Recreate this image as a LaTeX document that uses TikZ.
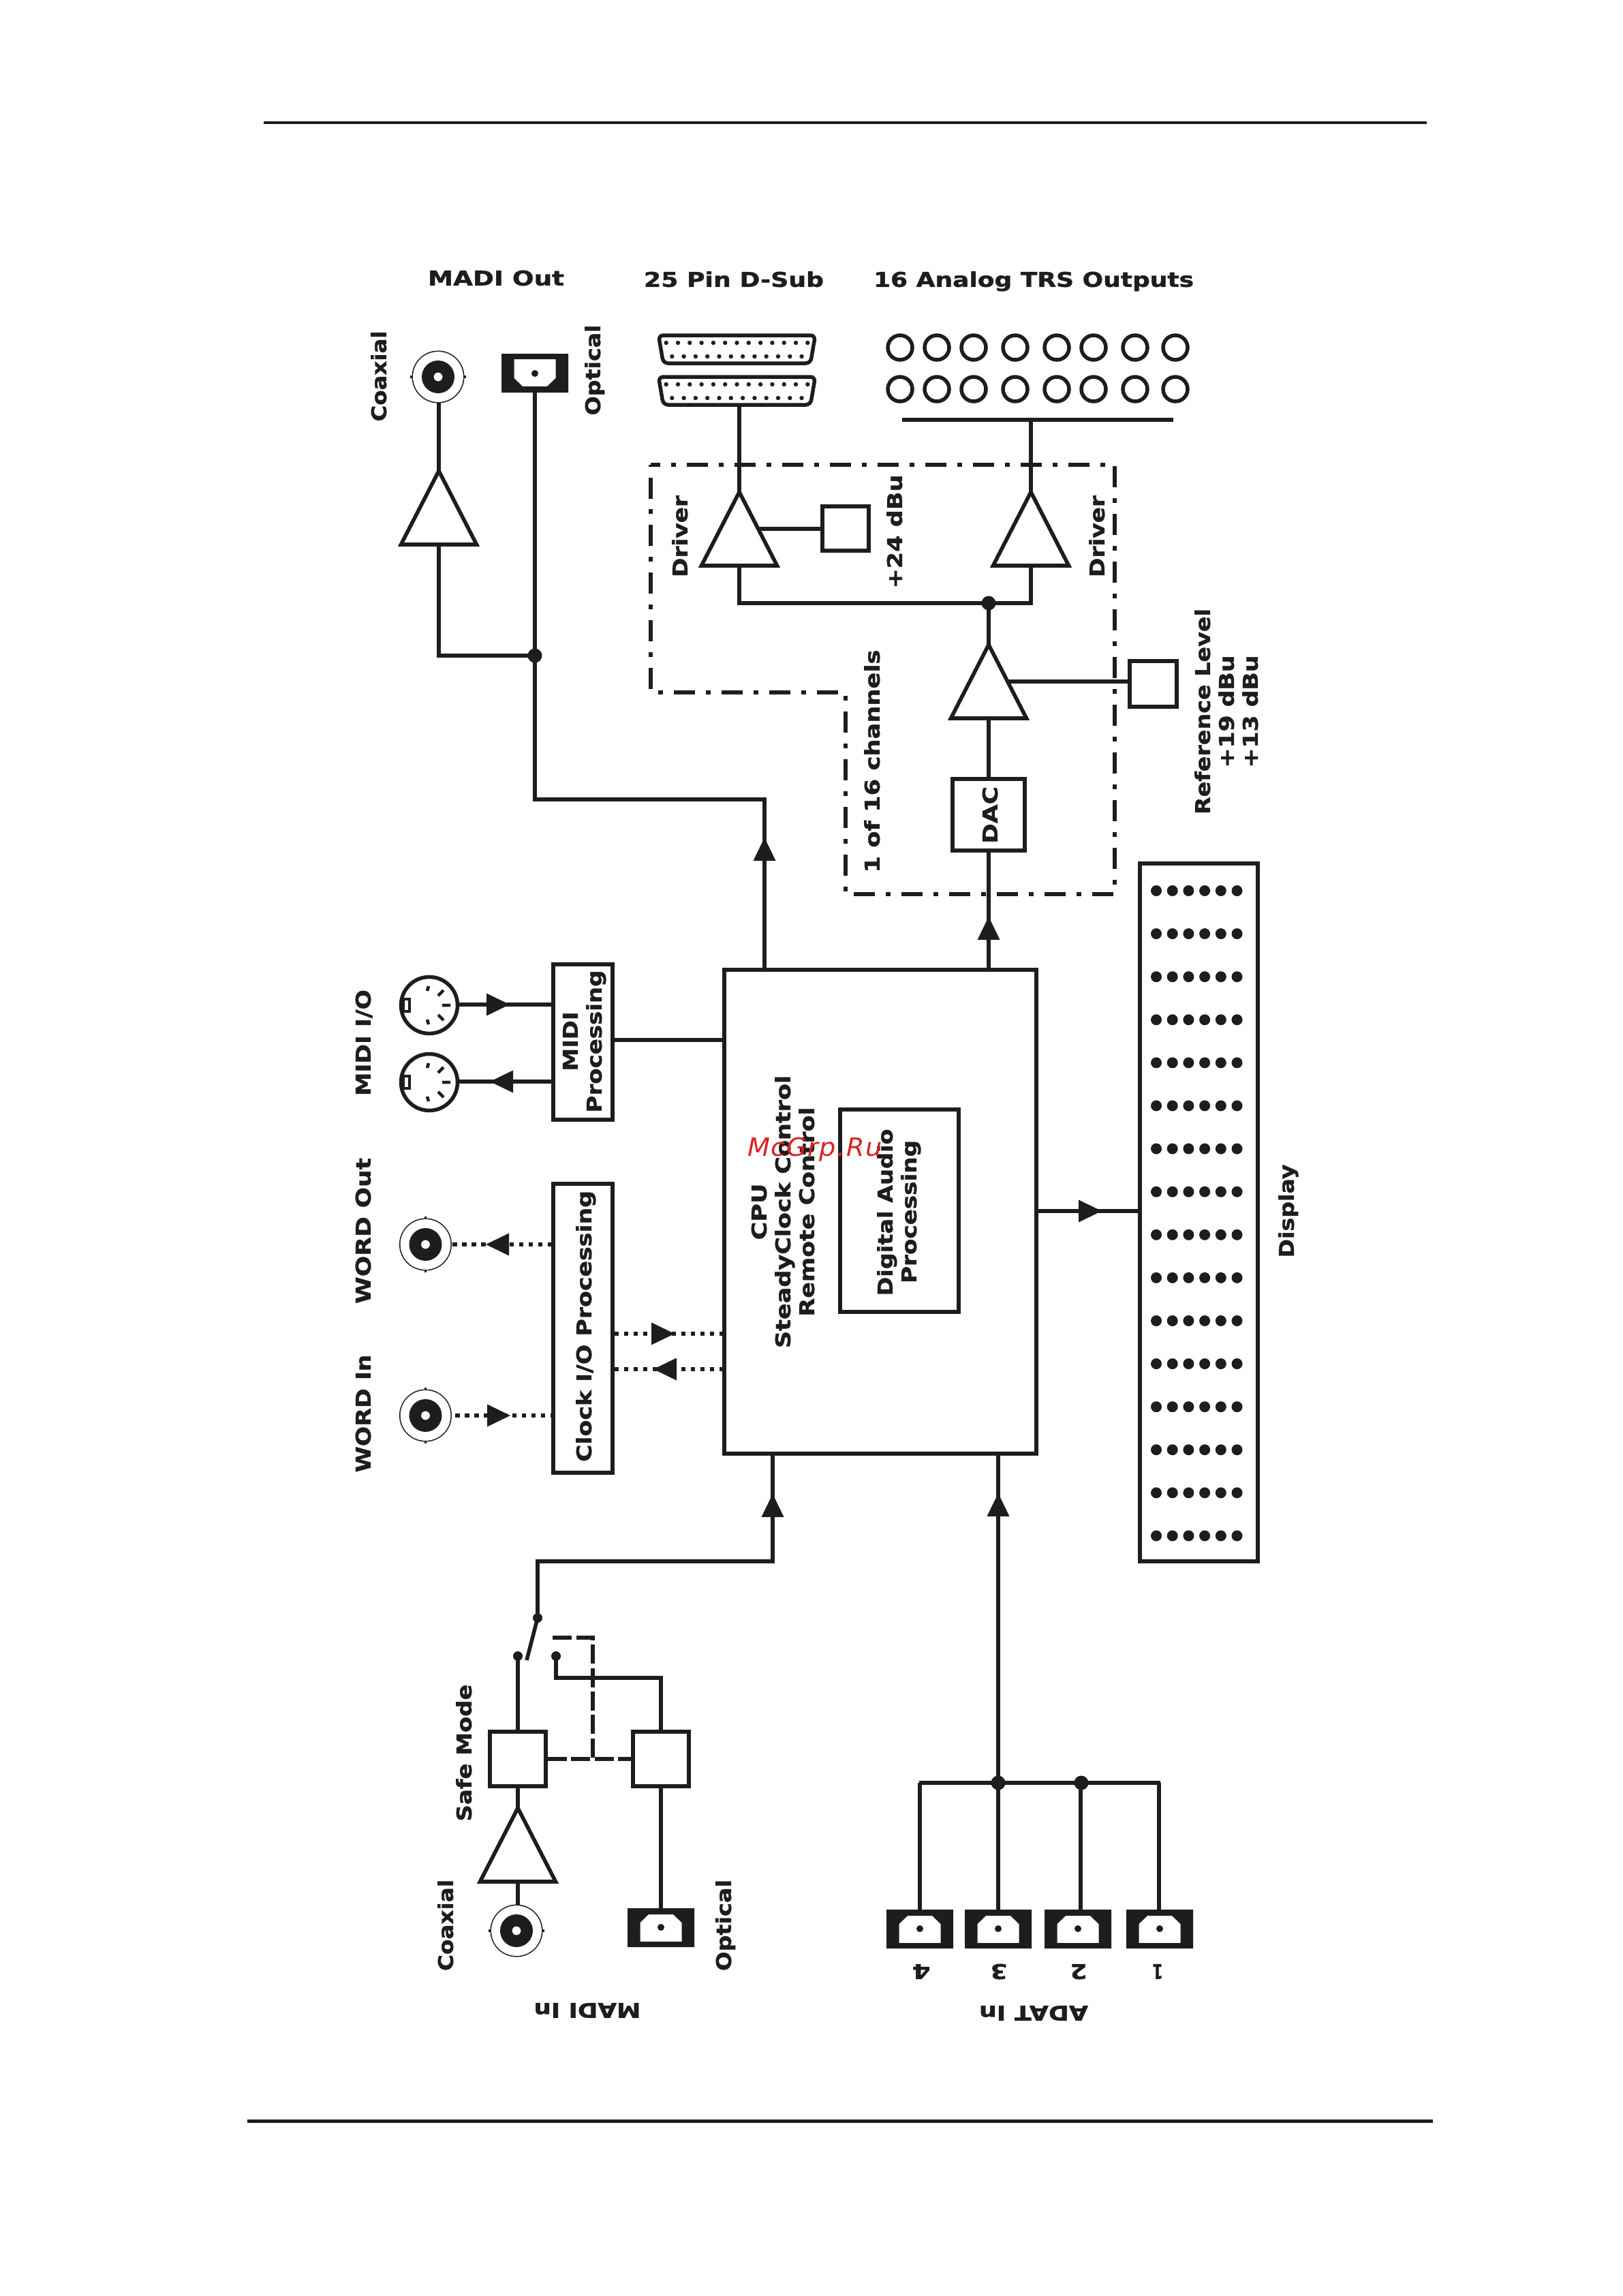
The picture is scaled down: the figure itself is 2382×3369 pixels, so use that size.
\documentclass[tikz,border=0pt]{standalone}
\usepackage{fontspec}
\usepackage{graphicx}
\setmainfont{DejaVu Sans}[BoldFeatures={FakeBold=1.2}]
\newfontfamily\wmfont{DejaVu Sans}[LetterSpace=4]
\usetikzlibrary{calc}
\definecolor{ink}{HTML}{1D1D1B}
\definecolor{wmred}{HTML}{D92222}
\newlength\pxl
\setlength\pxl{0.02cm}
\newcommand\fitw[2]{\resizebox{#1\pxl}{\height}{#2}}
\tikzset{
  wire/.style={draw=ink,line width=0.112cm,line cap=butt,line join=miter},
  sz/.style 2 args={minimum width=#1*0.02cm,minimum height=#2*0.02cm},
  box/.style={draw=ink,line width=0.11cm,inner sep=0pt},
  lab/.style={font=\bfseries\fontsize{17}{18}\selectfont,text=ink,inner sep=0pt,text height=12.4pt,text depth=0pt,anchor=center},
  vlab/.style={lab,rotate=90,yshift=-0.04cm},
  flab/.style={lab,rotate=180},
  dotted wire/.style={draw=ink,line width=0.115cm,dash pattern=on 0.13cm off 0.15cm},
  dashed wire/.style={draw=ink,line width=0.105cm,dash pattern=on 0.56cm off 0.13cm},
  bound/.style={draw=ink,line width=0.115cm,dash pattern=on 0.62cm off 0.32cm on 0.14cm off 0.32cm,dash phase=0.34cm},
  head/.pic={\fill[ink] (0,0) -- (-34,16.5) -- (-34,-16.5) -- cycle;},
  dotj/.pic={\fill[ink] (0,0) circle[radius=10.5];},
  optical/.pic={
    \fill[ink,even odd rule] (-49,-29) rectangle (49,28)
       (-30.5,-21) -- (30.5,-21) -- (30.5,7) -- (18,19) -- (-18,19) -- (-30.5,7) -- cycle;
    \fill[ink] (0,0) circle[radius=5];
    \coordinate (-port) at (0,28);
  },
  bnc/.pic={
    \draw[ink,line width=1.2pt] (0,0) circle[radius=37.5];
    \draw[white,line width=0.5pt] (0,0) circle[radius=36.5];
    \fill[ink,even odd rule] (0,0) circle[radius=24] (0,0) circle[radius=6.5];
    \draw[ink,line width=0.07cm] (-41,0) -- (-37,0) (37,0) -- (41,0);
    \coordinate (-top) at (0,-38);
    \coordinate (-bot) at (0,38);
  },
  din/.pic={
    \draw[ink,line width=0.11cm] (0,0) circle[radius=41.5];
    \draw[ink,line width=0.07cm,fill=white] (-38,-9) rectangle (-29,9);
    \draw[ink,line width=0.09cm]
      (19,0) -- (31,0)
      (13,-14) -- (21,-22)
      (-3,-21) -- (-1,-28)
      (13,14) -- (21,22)
      (-3,21) -- (-1,28);
    \coordinate (-port) at (43,-1);
  },
  amp/.pic={
    \draw[wire] (-55.5,1) -- (55.5,1) -- (0,-107) -- cycle;
    \coordinate (-in) at (0,1);
    \coordinate (-out) at (0,-107);
    \coordinate (-side) at (27,-53);
  },
  dsub/.pic={
    \draw[ink,line width=0.11cm,rounded corners=0.14cm] (-115,0) -- (115,0) -- (108,41) -- (-108,41) -- cycle;
    \foreach \i in {0,...,12} \fill[ink] ({-103.8+17.3*\i},11) circle[radius=3.2];
    \foreach \i in {0,...,11} \fill[ink] ({-95.2+17.3*\i},31) circle[radius=3.2];
    \coordinate (-port) at (2.5,42);
  },
}
\begin{document}
\begin{tikzpicture}[x=0.02cm,y=-0.02cm]
\useasboundingbox (0,0) rectangle (2382,3369);
% page rules
\coordinate (ruleTL) at (387,180);
\coordinate (ruleTR) at (2094,180);
\coordinate (ruleBL) at (363,3112);
\coordinate (ruleBR) at (2103,3112);
\draw[ink,line width=0.07cm] (ruleTL) -- (ruleTR);
\draw[ink,line width=0.1cm] (ruleBL) -- (ruleBR);

% main blocks
\node[box,line width=0.115cm,sz={458}{710}] (cpu) at (1292,1778) {};
\node[box,sz={174}{297}] (dsp) at (1320,1776.5) {};
\node[box,sz={87}{228}] (midi) at (855.5,1529) {};
\node[box,sz={87}{424}] (clock) at (855.5,1949) {};
\node[box,sz={173}{1024}] (display) at (1759.5,1779) {};
\node[box,sz={68}{65}] (plusbox) at (1241,775.5) {};
\node[box,sz={69}{67}] (refbox) at (1692.5,1003.5) {};
\node[box,sz={106}{105}] (dac) at (1451,1195.5) {};
\node[box,sz={82}{80}] (safeA) at (760,2581) {};
\node[box,sz={82}{80}] (safeB) at (970,2581) {};

% display dots
\foreach \r in {0,...,15} \foreach \c in {0,...,5}
  \fill[ink] ({1697+23.7*\c},{1307+63.1*\r}) circle[radius=8];

% amplifiers
\pic (ampMadi) at (644,798) {amp};
\pic (ampDsub) at (1085,829) {amp};
\pic (ampTrs) at (1513,829) {amp};
\pic (ampDac) at (1451,1053) {amp};
\pic (ampIn) at (760,2760) {amp};

% connectors: MADI out
\pic (coaxOut) at (643,553) {bnc};
\pic (optOut) at (785,548) {optical};
\coordinate (madiJ) at (785,962);
\coordinate (madiK) at (785,1173);
\coordinate (madiL) at (1122,1173);
\draw[wire] (coaxOut-bot -| ampMadi-out) -- (ampMadi-out);
\draw[wire] (ampMadi-in) |- (madiJ);
\draw[wire] (optOut-port) -- (madiJ) -- (madiK) -- (madiL) -- (madiL |- cpu.north);
\pic at (madiJ) {dotj};
\pic[rotate=90] at (1122,1229) {head};

% D-sub and TRS
\pic (subA) at (1081.5,492) {dsub};
\pic (subB) at (1081.5,553) {dsub};
\draw[wire] (subB-port -| ampDsub-out) -- (ampDsub-out);
\foreach \x in {1321,1375,1429,1490,1551,1605,1666,1725} {
  \draw[ink,line width=0.11cm] (\x,510) circle[radius=18];
  \draw[ink,line width=0.11cm] (\x,571) circle[radius=18];
}
\coordinate (barL) at (1324,616);
\coordinate (barR) at (1722,616);
\coordinate (barM) at (1513,616);
\draw[ink,line width=0.115cm] (barL) -- (barR);
\draw[wire] (barM) -- (ampTrs-out);
\draw[wire] (ampDsub-side) -- (ampDsub-side -| plusbox.west);
\coordinate (drvJ) at (1451,885);
\draw[wire] (ampDsub-in) |- (drvJ) -| (ampTrs-in);
\draw[wire] (drvJ) -- (ampDac-out);
\pic at (drvJ) {dotj};
\draw[wire] (ampDac-in) -- (dac.north);
\draw[wire] (ampDac-side) -- (ampDac-side -| refbox.west);
\draw[wire] (dac.south) -- (dac.south |- cpu.north);
\pic[rotate=90] at (1451,1345) {head};

% channel boundary
\draw[bound] (955,682) -- (1636,682) -- (1636,1312) -- (1241,1312) -- (1241,1016) -- (955,1016) -- cycle;

% MIDI
\pic (dinA) at (630,1475) {din};
\pic (dinB) at (630,1588) {din};
\draw[wire] (dinA-port) -- (dinA-port -| midi.west);
\draw[wire] (dinB-port) -- (dinB-port -| midi.west);
\pic at (748,1474) {head};
\pic[rotate=180] at (719,1587) {head};
\draw[wire] (midi.east |- 0,1526) -- (cpu.west |- 0,1526);

% Word clock
\pic[rotate=90] (wordOut) at (624.5,1826) {bnc};
\pic[rotate=90] (wordIn) at (624.5,2077) {bnc};
\coordinate (wOutA) at (664,1826);
\coordinate (wInA) at (668,2077);
\draw[dotted wire] (wOutA) -- (wOutA -| clock.west);
\draw[dotted wire] (wInA) -- (wInA -| clock.west);
\pic[rotate=180] at (713,1826) {head};
\pic at (749,2077) {head};
\coordinate (clkA) at (1063,1957);
\coordinate (clkB) at (1063,2009);
\draw[dotted wire] (clkA -| clock.east) -- (clkA);
\draw[dotted wire] (clkB -| clock.east) -- (clkB);
\pic at (990,1957) {head};
\pic[rotate=180] at (959,2009) {head};

% display feed
\draw[wire] (cpu.east |- 0,1777) -- (display.west |- 0,1777);
\pic at (1617,1777) {head};

% MADI in
\pic (coaxIn) at (758,2833) {bnc};
\pic[rotate=180] (optIn) at (970,2828) {optical};
\draw[wire] (coaxIn-top -| ampIn-in) -- (ampIn-in);
\draw[wire] (ampIn-out) -- (safeA.south);
\draw[wire] (optIn-port) -- (safeB.south);
\coordinate (swPivot) at (789,2374);
\coordinate (swTip) at (773,2436);
\coordinate (swA) at (760,2430);
\coordinate (swB) at (816,2430);
\coordinate (swC) at (789,2291);
\coordinate (swD) at (1134,2291);
\fill[ink] (swPivot) circle[radius=7];
\fill[ink] (swA) circle[radius=7];
\fill[ink] (swB) circle[radius=7];
\draw[wire] (swPivot) -- (swTip);
\draw[wire] (swA) -- (safeA.north);
\draw[wire] (swB) |- (970,2462) -- (safeB.north);
\draw[wire] (swPivot) -- (swC) -- (swD) -- (swD |- cpu.south);
\pic[rotate=90] at (1134,2192) {head};
\coordinate (tee) at (870,2581);
\coordinate (teeUp) at (870,2403);
\coordinate (teeEnd) at (811,2403);
\draw[dashed wire] (safeA.east) -- (safeB.west);
\draw[dashed wire] (teeEnd) -- (teeUp) -- (tee);

% ADAT
\pic[rotate=180] (adatD) at (1350,2830) {optical};
\pic[rotate=180] (adatC) at (1465,2830) {optical};
\pic[rotate=180] (adatB) at (1582,2830) {optical};
\pic[rotate=180] (adatA) at (1702,2830) {optical};
\coordinate (busL) at (1349,2616);
\coordinate (busR) at (1703,2616);
\draw[wire] (busL) -- (busR);
\draw[wire] (adatD-port) -- (1350,2616);
\draw[wire] (adatC-port) -- (1465,2616) -- (1465,2616 |- cpu.south);
\draw[wire] (1586,2802) -- (1586,2616);
\draw[wire] (1701,2802) -- (1701,2616);
\pic at (1465,2616) {dotj};
\pic at (1587,2616) {dotj};
\pic[rotate=90] at (1465,2191) {head};

% labels
\node[lab] (tMadiOut) at (728,408) {\fitw{200}{MADI Out}};
\node[lab] (tDsub) at (1077,410) {\fitw{264}{25 Pin D-Sub}};
\node[lab] (tTrs) at (1517,410) {\fitw{470}{16 Analog TRS Outputs}};
\node[vlab] (tCoaxOut) at (554,552) {\fitw{133}{Coaxial}};
\node[vlab] (tOptOut) at (868,543) {\fitw{133}{Optical}};
\node[vlab] (tDrvL) at (996,787) {\fitw{120}{Driver}};
\node[vlab] (tDrvR) at (1608,787) {\fitw{120}{Driver}};
\node[vlab] (tPlus) at (1311,780) {\fitw{167}{+24 dBu}};
\node[vlab] (tChan) at (1278,1117) {\fitw{327}{1 of 16 channels}};
\node[vlab] (tRef) at (1763,1044) {\fitw{302}{Reference Level}};
\node[vlab] (tRefA) at (1798,1044) {\fitw{165}{+19 dBu}};
\node[vlab] (tRefB) at (1833,1044) {\fitw{165}{+13 dBu}};
\node[vlab] (tDac) at (1451,1196) {\fitw{84}{DAC}};
\node[vlab] (tDisplay) at (1886,1777) {\fitw{137}{Display}};
\node[vlab] (tMidiA) at (835,1528) {\fitw{87}{MIDI}};
\node[vlab] (tMidiB) at (870,1528) {\fitw{209}{Processing}};
\node[vlab] (tClock) at (855,1946) {\fitw{398}{Clock I/O Processing}};
\node[vlab] (tMidiIO) at (531,1530) {\fitw{156}{MIDI I/O}};
\node[vlab] (tWordOut) at (531,1806) {\fitw{214}{WORD Out}};
\node[vlab] (tWordIn) at (531,2074) {\fitw{173}{WORD In}};
\node[vlab] (tCpu) at (1112,1778) {\fitw{83}{CPU}};
\node[vlab] (tSteady) at (1147,1778) {\fitw{400}{SteadyClock Control}};
\node[vlab] (tRemote) at (1182,1778) {\fitw{307}{Remote Control}};
\node[vlab] (tDigital) at (1297,1779) {\fitw{245}{Digital Audio}};
\node[vlab] (tProc) at (1332,1778) {\fitw{210}{Processing}};
\node[vlab] (tSafe) at (679,2572) {\fitw{201}{Safe Mode}};
\node[vlab] (tCoaxIn) at (652,2825) {\fitw{134}{Coaxial}};
\node[vlab] (tOptIn) at (1060,2825) {\fitw{134}{Optical}};
\node[flab] (tMadiIn) at (862,2950) {\fitw{157}{MADI In}};
\node[flab] (tAdatIn) at (1517,2954) {\fitw{160}{ADAT In}};
\node[flab] (tFour) at (1352,2893) {\fitw{27}{4}};
\node[flab] (tThree) at (1466,2893) {\fitw{25}{3}};
\node[flab] (tTwo) at (1583,2893) {\fitw{25}{2}};
\node[flab] (tOne) at (1699,2893) {\fitw{16}{1}};
\node[inner sep=0pt,text=wmred,font=\wmfont\itshape\fontsize{21}{24}\selectfont] (wm) at (1196,1687) {\fitw{197}{McGrp.Ru}};
\end{tikzpicture}
\end{document}
